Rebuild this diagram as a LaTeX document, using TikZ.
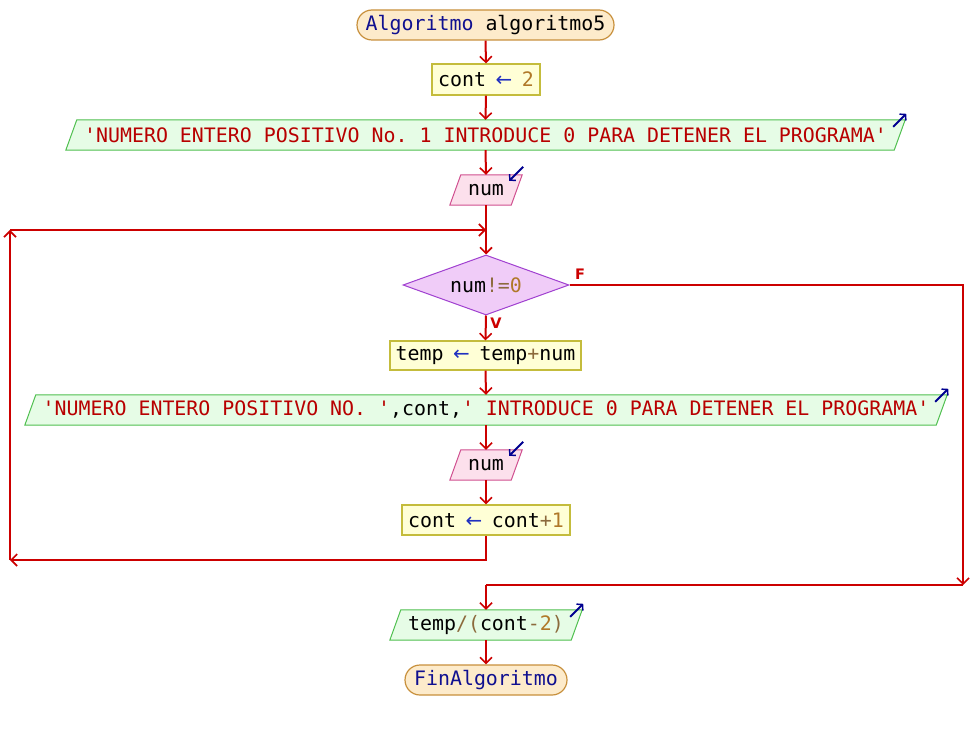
\documentclass[tikz,border=0pt]{standalone}
\usepackage{fontspec}
\setmonofont{DejaVu Sans Mono}
\newfontfamily\flagfont{DejaVu Sans}
\usetikzlibrary{arrows.meta,shapes.geometric,shapes.misc,backgrounds,calc}

% palette
\definecolor{flow}{HTML}{CC0000}
\definecolor{kwblue}{HTML}{101090}
\definecolor{asgblue}{HTML}{2030C0}
\definecolor{strred}{HTML}{B80000}
\definecolor{numbrown}{HTML}{B07828}
\definecolor{opbrown}{HTML}{8C6A3C}
\definecolor{termfill}{HTML}{FDEBCB}
\definecolor{termline}{HTML}{C8903C}
\definecolor{procfill}{HTML}{FFFFD6}
\definecolor{procline}{HTML}{C4BC3C}
\definecolor{outfill}{HTML}{E6FCE6}
\definecolor{outline}{HTML}{50C050}
\definecolor{infill}{HTML}{FCE0EC}
\definecolor{inline}{HTML}{D05090}
\definecolor{decfill}{HTML}{F0CCF8}
\definecolor{decline}{HTML}{A040D0}
\definecolor{iconblue}{HTML}{000090}

% token colouring
\newcommand\kw[1]{\textcolor{kwblue}{#1}}
\newcommand\str[1]{\textcolor{strred}{#1}}
\newcommand\nm[1]{\textcolor{numbrown}{#1}}
\newcommand\opr[1]{\textcolor{opbrown}{#1}}
\newcommand\asg{\makebox[0.602em]{\textcolor{asgblue}{\flagfont ←}}}

% slanted box behind an I/O node
\newcommand\slantbox[3]{%
  \filldraw[fill=#2,draw=#3,line width=1pt]
    ($(#1.north west)+(11,0)$) -- (#1.north east)
    -- ($(#1.south east)+(-11,0)$) -- (#1.south west) -- cycle;}

\begin{document}
\begin{tikzpicture}[x=1pt,y=-1pt,
  every node/.style={font=\ttfamily\fontsize{19.9}{24}\selectfont},
  terminal/.style={rounded rectangle, fill=termfill, draw=termline, line width=1.2pt,
    minimum height=30, inner sep=0},
  proc/.style={rectangle, fill=procfill, draw=procline, line width=1.2pt,
    minimum height=30, inner sep=0},
  iotext/.style={rectangle, minimum height=30, inner sep=0},
  decision/.style={diamond, shape aspect=2.7667, fill=decfill, draw=decline, line width=1pt,
    minimum width=166, minimum height=60, inner sep=0},
  flowline/.style={draw=flow, line width=2pt},
  flowarrow/.style={flowline, -{Straight Barb[length=6,width=12,line width=1.6pt]}},
  icon/.style={draw=iconblue, line width=2pt, -{Straight Barb[length=4,width=9,line width=1.5pt]}},
  flag/.style={text=flow, font=\flagfont\bfseries\fontsize{14.5}{16}\selectfont, inner sep=0}]

\useasboundingbox (0,0) rectangle (972,730);

% blocks
\node[terminal, minimum width=257] (start) at (485.5,25) {\kw{Algoritmo} algoritmo5};
\node[proc, minimum width=108, minimum height=31] (c1) at (486,79.5) {cont \asg{} \nm{2}};
\node[iotext, minimum width=839] (o1) at (485.5,135)
  {\str{'NUMERO ENTERO POSITIVO No. 1 INTRODUCE 0 PARA DETENER EL PROGRAMA'}};
\node[iotext, minimum width=72] (i1) at (486,190) {num};
\node[decision] (d1) at (486,285) {num\opr{!=}\nm{0}};
\node[proc, minimum width=191, minimum height=29] (a2) at (485.5,355.5) {temp \asg{} temp\opr{+}num};
\node[iotext, minimum width=922] (o2) at (486,410)
  {\str{'NUMERO ENTERO POSITIVO NO. '},cont,\str{' INTRODUCE 0 PARA DETENER EL PROGRAMA'}};
\node[iotext, minimum width=72] (i2) at (486,465) {num};
\node[proc, minimum width=168] (a3) at (486,520) {cont \asg{} cont\opr{+}\nm{1}};
\node[iotext, minimum width=192] (o3) at (486,625) {temp\opr{/(}cont\opr{-}\nm{2}\opr{)}};
\node[terminal, minimum width=162] (stop) at (486,680) {\kw{FinAlgoritmo}};

% shape outlines of the I/O blocks, drawn behind the text
\begin{pgfonlayer}{background}
  \fill[white] (0,0) rectangle (972,730);
  \slantbox{o1}{outfill}{outline}
  \slantbox{o2}{outfill}{outline}
  \slantbox{o3}{outfill}{outline}
  \slantbox{i1}{infill}{inline}
  \slantbox{i2}{infill}{inline}
\end{pgfonlayer}

% output / input markers
\draw[icon] ([shift={(-12,7)}]o1.north east) -- ([shift={(1,-6)}]o1.north east);
\draw[icon] ([shift={(-12,7)}]o2.north east) -- ([shift={(1,-6)}]o2.north east);
\draw[icon] ([shift={(-12,7)}]o3.north east) -- ([shift={(1,-6)}]o3.north east);
\draw[icon] ([shift={(1,-8)}]i1.north east) -- ([shift={(-13,6)}]i1.north east);
\draw[icon] ([shift={(1,-8)}]i2.north east) -- ([shift={(-13,6)}]i2.north east);

% loop and branch points
\coordinate (join) at (486,230);
\coordinate (lefttop) at (10,230);
\coordinate (leftbot) at (10,560);
\coordinate (falsebot) at (963,585);
\coordinate (merge) at (486,585);

% main sequence
\draw[flowarrow] (start.south) -- (c1.north);
\draw[flowarrow] (c1.south) -- (o1.north);
\draw[flowarrow] (o1.south) -- (i1.north);
\draw[flowarrow] (i1.south) -- (d1.north);
\draw[flowarrow] (d1.south) -- (a2.north);
\draw[flowarrow] (a2.south) -- (o2.north);
\draw[flowarrow] (o2.south) -- (i2.north);
\draw[flowarrow] (i2.south) -- (a3.north);

% loop back
\draw[flowarrow] (a3.south) |- (leftbot);
\draw[flowarrow] (leftbot) -- (lefttop);
\draw[flowarrow] (lefttop) -- (join);

% exit branch
\draw[flowarrow] (d1.east) -| (falsebot);
\draw[flowline] (falsebot) -- (merge);
\draw[flowarrow] (merge) -- (o3.north);
\draw[flowarrow] (o3.south) -- (stop.north);

% branch flags
\node[flag] (flagf) at (580,274.5) {F};
\node[flag] (flagv) at (496,323.5) {V};

\end{tikzpicture}
\end{document}
